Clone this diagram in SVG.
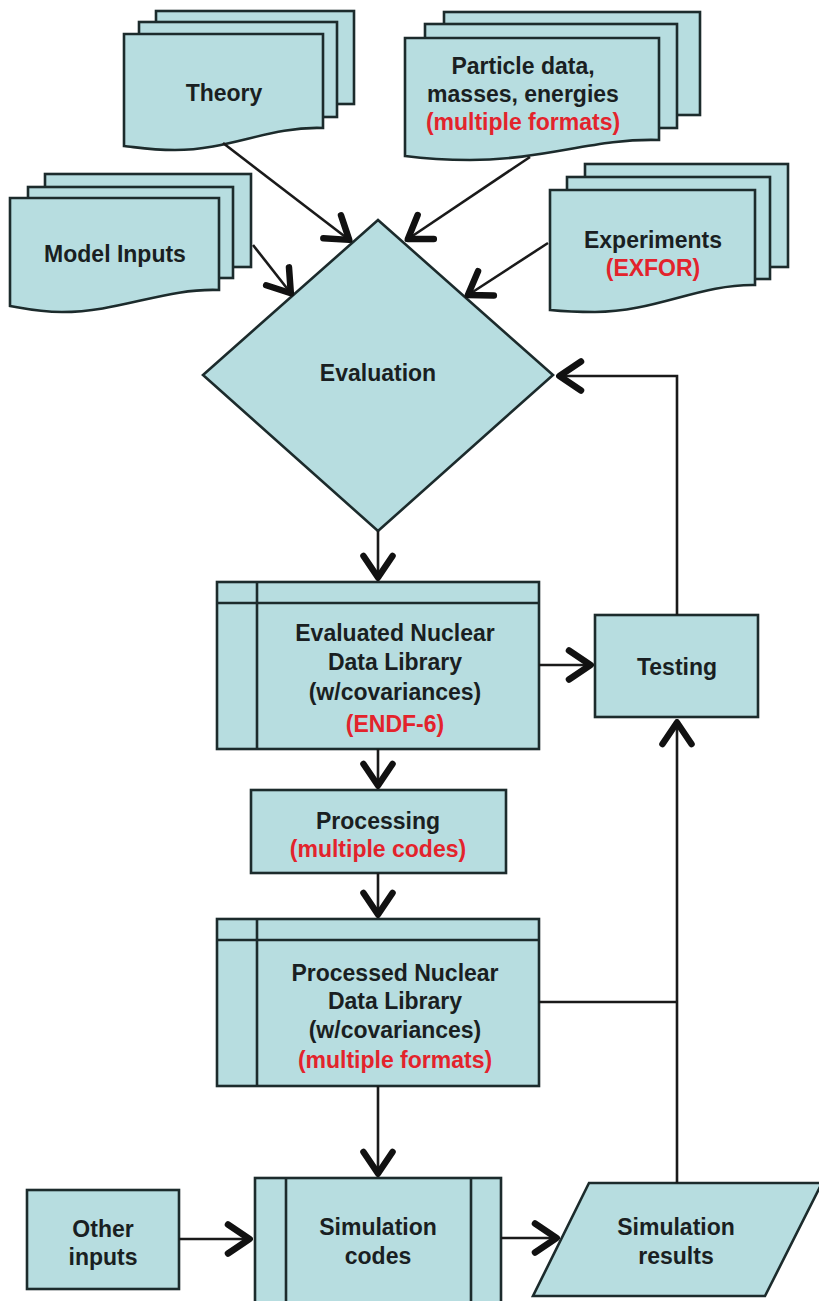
<svg xmlns="http://www.w3.org/2000/svg" width="819" height="1301" viewBox="0 0 819 1301">
<style>
.s{fill:#b7dde0;stroke:#1c2b2c;stroke-width:2.6;stroke-linejoin:miter}
.t{font-family:"Liberation Sans",Arial,sans-serif;font-weight:bold;font-size:23px;fill:#1a1f22;text-anchor:middle}
.r{fill:#e3232c}
.c{fill:none;stroke:#1a1a1a;stroke-width:2.6}
.a{marker-end:url(#ah)}
</style>
<defs>
<marker id="ah" markerUnits="userSpaceOnUse" viewBox="-30 -20 40 40" markerWidth="40" markerHeight="40" refX="0" refY="0" orient="auto" overflow="visible">
<path d="M-25,-14.5 L-3.5,0 L-25,14.5" fill="none" stroke="#111" stroke-width="6.5" stroke-linejoin="round" stroke-linecap="round"/>
</marker>
</defs>
<rect width="819" height="1301" fill="#fff"/>

<g id="theory">
<rect class="s" x="156" y="11" width="198" height="93"/>
<rect class="s" x="139" y="22" width="198" height="95"/>
<path class="s" d="M124,34 H323 V128 C270,126 230,150 175,150 C150,150 135,147 124,146 Z"/>
<text class="t" x="224" y="101">Theory</text>
</g>

<g id="model-inputs">
<rect class="s" x="45" y="174" width="206" height="93"/>
<rect class="s" x="28" y="187" width="205" height="91"/>
<path class="s" d="M10,198 H219 V290 C165,288 120,312 62,312 C38,312 22,308 10,306 Z"/>
<text class="t" x="115" y="262">Model Inputs</text>
</g>

<g id="particle">
<rect class="s" x="444" y="12" width="256" height="103"/>
<rect class="s" x="425" y="24" width="252" height="104"/>
<path class="s" d="M405,38 H659 V140 C595,138 545,160 470,160 C440,160 420,158 405,156 Z"/>
<text class="t" x="523" y="74">Particle data,</text>
<text class="t" x="523" y="102">masses, energies</text>
<text class="t r" x="523" y="130">(multiple formats)</text>
</g>

<g id="experiments">
<rect class="s" x="585" y="164" width="203" height="103"/>
<rect class="s" x="567" y="177" width="203" height="102"/>
<path class="s" d="M550,190 H755 V285 C700,284 655,312 595,312 C575,312 560,311 550,310 Z"/>
<text class="t" x="653" y="248">Experiments</text>
<text class="t r" x="653" y="276">(EXFOR)</text>
</g>

<g id="evaluation">
<path class="s" d="M378,220 L553,375 L378,531 L203,375 Z"/>
<text class="t" x="378" y="381">Evaluation</text>
</g>

<g id="evaluated-library">
<rect class="s" x="217" y="582" width="322" height="167"/>
<line class="s" x1="217" y1="603" x2="539" y2="603"/>
<line class="s" x1="257" y1="582" x2="257" y2="749"/>
<text class="t" x="395" y="641">Evaluated Nuclear</text>
<text class="t" x="395" y="670">Data Library</text>
<text class="t" x="395" y="700">(w/covariances)</text>
<text class="t r" x="395" y="732">(ENDF-6)</text>
</g>

<g id="testing">
<rect class="s" x="595" y="615" width="163" height="102"/>
<text class="t" x="677" y="675">Testing</text>
</g>

<g id="processing">
<rect class="s" x="251" y="790" width="255" height="83"/>
<text class="t" x="378" y="829">Processing</text>
<text class="t r" x="378" y="857">(multiple codes)</text>
</g>

<g id="processed-library">
<rect class="s" x="217" y="919" width="322" height="167"/>
<line class="s" x1="217" y1="940" x2="539" y2="940"/>
<line class="s" x1="257" y1="919" x2="257" y2="1086"/>
<text class="t" x="395" y="981">Processed Nuclear</text>
<text class="t" x="395" y="1009">Data Library</text>
<text class="t" x="395" y="1038">(w/covariances)</text>
<text class="t r" x="395" y="1068">(multiple formats)</text>
</g>

<g id="other-inputs">
<rect class="s" x="27" y="1190" width="152" height="99"/>
<text class="t" x="103" y="1237">Other</text>
<text class="t" x="103" y="1265">inputs</text>
</g>

<g id="simulation-codes">
<rect class="s" x="255" y="1178" width="246" height="131"/>
<line class="s" x1="286" y1="1178" x2="286" y2="1309"/>
<line class="s" x1="471" y1="1178" x2="471" y2="1309"/>
<text class="t" x="378" y="1235">Simulation</text>
<text class="t" x="378" y="1264">codes</text>
</g>

<g id="simulation-results">
<path class="s" d="M589,1183 H822 L765,1296 H533 Z"/>
<text class="t" x="676" y="1235">Simulation</text>
<text class="t" x="676" y="1264">results</text>
</g>

<g id="connectors">
<line class="c a" x1="223" y1="143" x2="352" y2="242"/>
<line class="c a" x1="253" y1="245" x2="293" y2="296"/>
<line class="c a" x1="530" y1="157" x2="405" y2="241"/>
<line class="c a" x1="548" y1="243" x2="465" y2="297"/>
<line class="c a" x1="378" y1="531" x2="378" y2="581"/>
<line class="c a" x1="539" y1="665" x2="594" y2="665"/>
<path class="c a" d="M677,615 V376 H556"/>
<line class="c a" x1="378" y1="749" x2="378" y2="789"/>
<line class="c a" x1="378" y1="873" x2="378" y2="918"/>
<line class="c" x1="539" y1="1002" x2="677" y2="1002"/>
<line class="c a" x1="677" y1="1183" x2="677" y2="719"/>
<line class="c a" x1="378" y1="1086" x2="378" y2="1177"/>
<line class="c a" x1="179" y1="1239" x2="253" y2="1239"/>
<line class="c a" x1="501" y1="1238" x2="560" y2="1238"/>
</g>
</svg>
